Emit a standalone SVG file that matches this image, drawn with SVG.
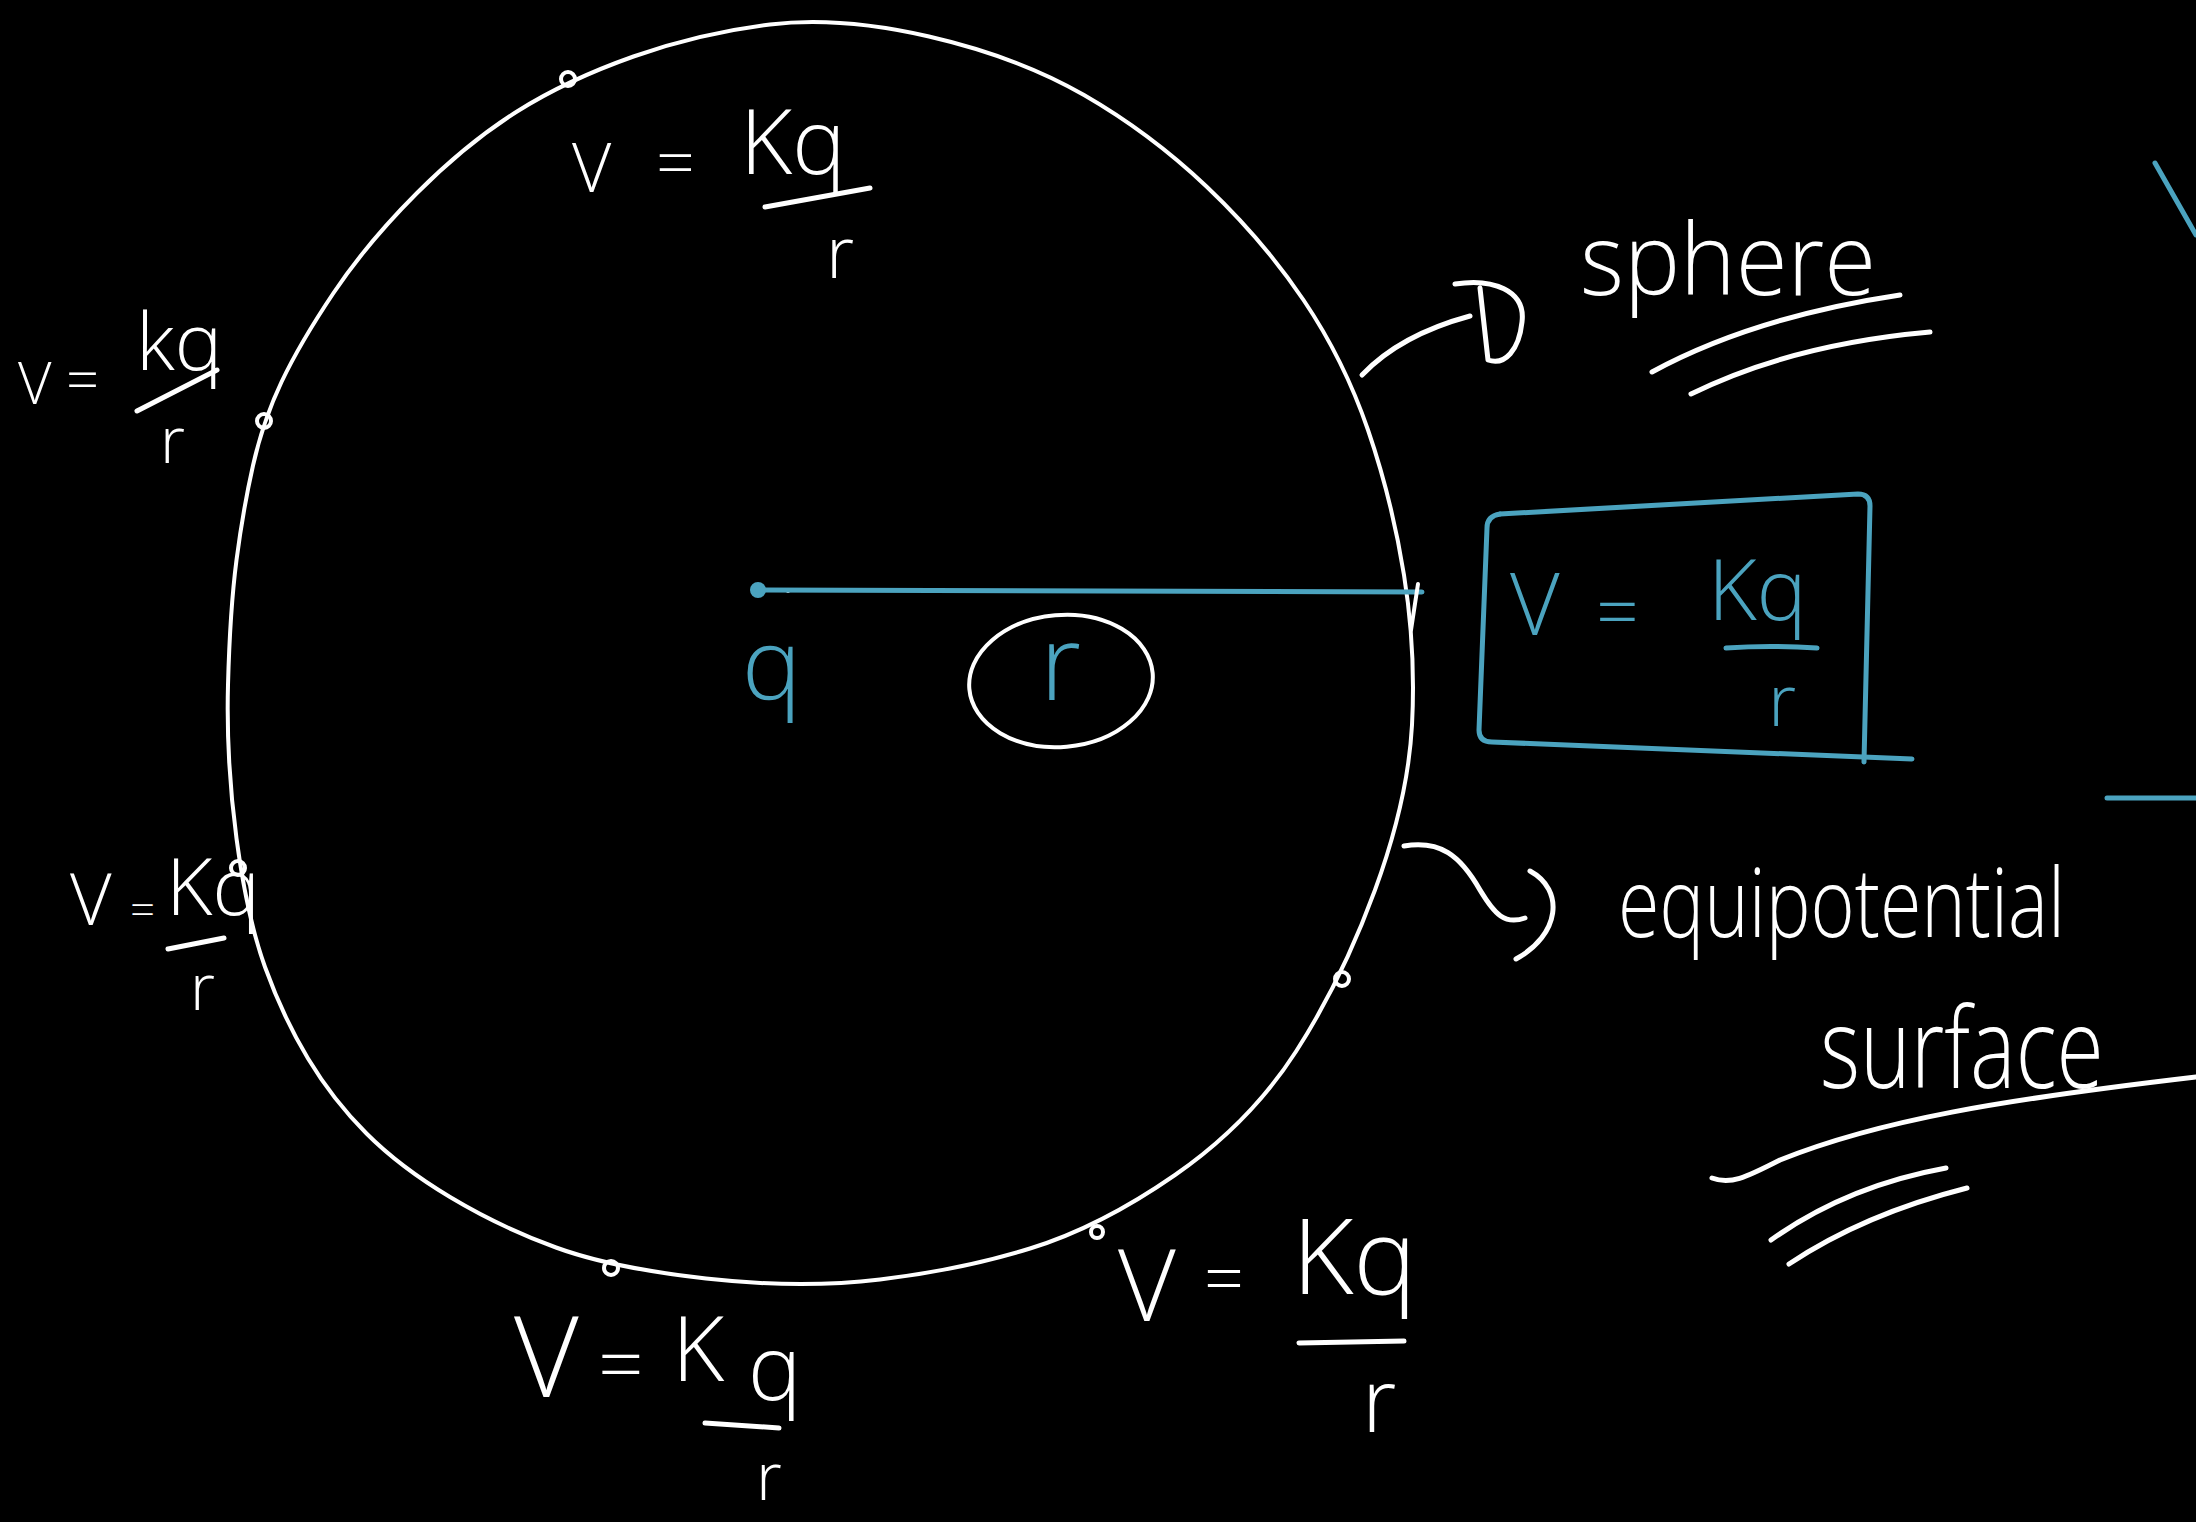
<svg xmlns="http://www.w3.org/2000/svg" width="2196" height="1522" viewBox="0 0 2196 1522">
<style>
.w{fill:none;stroke:#fff;stroke-width:4;stroke-linecap:round;stroke-linejoin:round}
.w5{fill:none;stroke:#fff;stroke-width:5;stroke-linecap:round;stroke-linejoin:round}
.b{fill:none;stroke:#4ba3bf;stroke-width:5;stroke-linecap:round;stroke-linejoin:round}
.dot{fill:none;stroke:#fff;stroke-width:4}
.tw{fill:#fff;font-family:"Open Sans","DejaVu Sans",sans-serif;font-weight:300}
.tb{fill:#4ba3bf;font-family:"Open Sans","DejaVu Sans",sans-serif;font-weight:300}
</style>
<rect x="0" y="0" width="2196" height="1522" fill="#000"/>

<g id="sphere-surface">
<path class="w" d="M770,24.5 Q840,16 929,36.5 Q1018,57 1084,95 Q1150,133 1206.5,186.5 Q1263,240 1303.5,300 Q1344,360 1368,430 Q1392,500 1404,575 Q1416,650 1412,725 Q1408,800 1375,890 Q1342,980 1296,1051.5 Q1250,1123 1175,1175 Q1100,1227 1030,1248.5 Q960,1270 880,1279.5 Q800,1289 706,1278.5 Q612,1268 556,1247.5 Q500,1227 450,1197 Q400,1167 366.5,1133.5 Q333,1100 308,1058.5 Q283,1017 265,967 Q247,917 236.5,838.5 Q226,760 228,685 Q230,610 236.5,560 Q243,510 253,465.5 Q263,421 281.5,382 Q300,343 333.5,293 Q367,243 417,193 Q467,143 517,111.5 Q567,80 633.5,56.5 Q700,33 770,24.5 Z"/>
<circle class="dot" cx="568" cy="79" r="7"/>
<circle class="dot" cx="264" cy="421" r="7"/>
<circle class="dot" cx="238" cy="868" r="7"/>
<circle class="dot" cx="611" cy="1268" r="7"/>
<circle class="dot" cx="1097" cy="1232" r="6"/>
<circle class="dot" cx="1342" cy="979" r="7"/>
</g>

<g id="charge">
<circle cx="758" cy="590" r="8" fill="#4ba3bf"/>
<circle cx="788" cy="591" r="2" fill="#fff"/>
<text class="tb" x="742" y="700" font-size="100">q</text>
</g>

<g id="radius-label">
<ellipse class="w" cx="1061" cy="681" rx="92" ry="66" transform="rotate(-5 1061 681)"/>
<text class="tb" x="1040" y="700" font-size="105">r</text>
</g>

<g id="label-top">
<text class="tw" x="572" y="192" font-size="68">V</text>
<text class="tw" x="656" y="187" font-size="68">=</text>
<text class="tw" x="740" y="174" font-size="90">Kq</text>
<path class="w5" d="M765,207 L870,188"/>
<text class="tw" x="826" y="278" font-size="72">r</text>
</g>

<g id="label-left-top">
<text class="tw" x="18" y="404" font-size="58">V</text>
<text class="tw" x="66" y="401" font-size="58">=</text>
<text class="tw" x="136" y="370" font-size="80">kq</text>
<path class="w5" d="M137,411 L217,370"/>
<text class="tw" x="160" y="463" font-size="64">r</text>
</g>

<g id="label-left-mid">
<text class="tw" x="70" y="925" font-size="72">V</text>
<text class="tw" x="130" y="925" font-size="44">=</text>
<text class="tw" x="166" y="915" font-size="80">Kq</text>
<path class="w5" d="M168,949 L224,938"/>
<text class="tw" x="190" y="1010" font-size="64">r</text>
</g>

<g id="label-bottom">
<text class="tw" x="514" y="1397" font-size="112">V</text>
<text class="tw" x="598" y="1392" font-size="80">=</text>
<text class="tw" x="672" y="1381" font-size="90">K</text>
<text class="tw" x="748" y="1400" font-size="90">q</text>
<path class="w5" d="M705,1423 L779,1428"/>
<text class="tw" x="756" y="1500" font-size="66">r</text>
</g>

<g id="label-bottom-right">
<text class="tw" x="1118" y="1321" font-size="100">V</text>
<text class="tw" x="1204" y="1303" font-size="70">=</text>
<text class="tw" x="1292" y="1294" font-size="106">Kq</text>
<path class="w5" d="M1299,1343 L1404,1341"/>
<text class="tw" x="1362" y="1432" font-size="88">r</text>
</g>

<g id="formula-box">
<path class="b" d="M1500,514 L1858,494 Q1870,494 1870,506 L1864,762"/>
<path class="b" d="M1500,514 Q1487,516 1487,528 L1479,730 Q1479,742 1492,742 L1912,759"/>
<text class="tb" x="1510" y="635" font-size="86">V</text>
<text class="tb" x="1596" y="638" font-size="75">=</text>
<text class="tb" x="1708" y="620" font-size="84">Kq</text>
<path class="b" d="M1726,648 Q1770,645 1817,648"/>
<text class="tb" x="1768" y="726" font-size="72">r</text>
</g>

<g id="sphere-label">
<text class="tw" x="1580" y="295" font-size="100" textLength="296" lengthAdjust="spacingAndGlyphs">sphere</text>
<path class="w5" d="M1652,372 C1720,335 1800,310 1900,295"/>
<path class="w5" d="M1691,394 C1760,360 1840,340 1930,332"/>
</g>

<g id="equipotential-label">
<text class="tw" x="1618" y="937" font-size="96" textLength="447" lengthAdjust="spacingAndGlyphs">equipotential</text>
<text class="tw" x="0" y="0" font-size="86" transform="translate(1820,1088) scale(1,1.3)">surface</text>
<path class="w5" d="M1712,1178 C1730,1185 1745,1178 1780,1160 C1880,1120 2000,1100 2196,1077"/>
<path class="w5" d="M1771,1240 C1820,1205 1880,1180 1946,1168"/>
<path class="w5" d="M1789,1264 C1840,1230 1900,1205 1967,1188"/>
</g>

<g id="connectors">
<path class="b" d="M758,590 L1422,592"/>
<path class="w" d="M1418,584 L1411,630"/>
<path class="w5" d="M1362,375 Q1400,335 1470,316"/>
<path class="w5" d="M1455,284 C1492,278 1526,290 1522,322 C1519,350 1505,366 1488,360 L1480,288"/>
<path class="w5" d="M1404,846 C1440,840 1460,855 1480,890 C1495,915 1505,925 1525,918"/>
<path class="w5" d="M1530,871 C1565,890 1560,935 1516,959"/>
<path class="b" d="M2155,163 L2196,235"/>
<path class="b" d="M2107,798 L2196,798"/>
</g>
</svg>
